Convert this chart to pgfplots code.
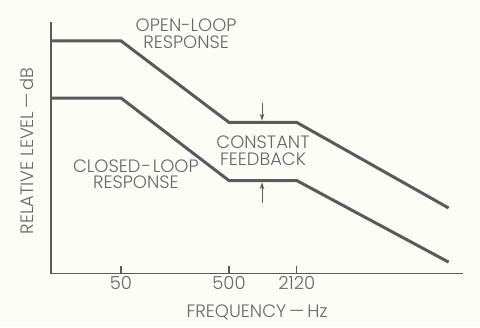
\documentclass[border=0pt]{standalone}
\usepackage{pgfplots}
\pgfplotsset{compat=1.18}
\usetikzlibrary{arrows.meta}
\usepackage{fontspec}
\setmainfont{Poppins Light}
\definecolor{bg}{HTML}{FDFDF8}
\definecolor{ink}{HTML}{5A5A5A}
\definecolor{txt}{HTML}{666666}
\begin{document}
\begin{tikzpicture}[x=1bp,y=1bp]
\fill[bg] (0,0) rectangle (480,327);
\begin{axis}[
  at={(51bp,53.3bp)}, anchor=south west,
  scale only axis, width=412bp, height=251.7bp,
  xmode=log, xmin=11.25, xmax=73400, ymin=0, ymax=100,
  axis lines*=left, axis line style={ink, line width=1.4bp},
  xtick={50,500,2120}, xticklabels={50,500,2120}, ytick=\empty,
  xminorticks=false,
  tick align=inside, major tick length=8bp,
  tick style={ink, line width=1.2bp},
  xticklabel style={font=\fontsize{18}{18}\selectfont, text=txt, inner sep=2.5bp},
  clip=false,
]
\addplot[ink, line width=3bp] coordinates {(11.25,92.5)(50,92.5)(500,60.1)(2120,60.1)(54000,26.1)};
\addplot[ink, line width=3bp] coordinates {(11.25,69.8)(50,69.8)(500,37.0)(2120,37.0)(54000,4.6)};
\draw[ink, line width=1bp, -{Stealth[length=7bp,width=4.5bp]}] (axis cs:1011,67.8) -- (axis cs:1011,60.8);
\draw[ink, line width=1bp, -{Stealth[length=7bp,width=4.5bp]}] (axis cs:1011,28.1) -- (axis cs:1011,36.3);
\node[font=\fontsize{18}{17}\selectfont, text=txt, align=center] at (axis description cs:0.328,0.954) {OPEN-LOOP\\RESPONSE};
\node[font=\fontsize{18}{16.5}\selectfont, text=txt, align=center] at (axis description cs:0.206,0.396) {CLOSED\kern1.5bp-\kern1.5bp LOOP\\RESPONSE};
\node[font=\fontsize{18}{17}\selectfont, text=txt, align=center] at (axis description cs:0.5146,0.4887) {CONSTANT\\FEEDBACK};
\node[font=\fontsize{18}{18}\selectfont, text=txt] at (axis description cs:0.5,-0.152) {FREQUENCY\,—\,Hz};
\node[font=\fontsize{18}{18}\selectfont, text=txt, rotate=90] at (axis description cs:-0.0575,0.4875) {RELATIVE LEVEL\,—\,dB};
\end{axis}
\pgfresetboundingbox
\path[use as bounding box] (0,0) rectangle (480,327);
\end{tikzpicture}
\end{document}
